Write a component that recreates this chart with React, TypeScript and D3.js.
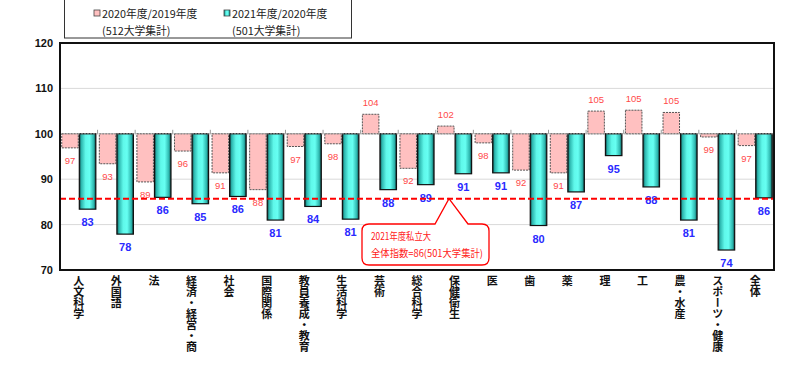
import React from 'react';
import * as d3 from 'd3';

const categories = [
  '人文科学', '外国語', '法', '経済・経営・商', '社会', '国際関係', '教員養成・教育',
  '生活科学', '芸術', '総合科学', '保健衛生', '医', '歯', '薬', '理', '工', '農・水産',
  'スポーツ・健康', '全体',
];
// 2020年度/2019年度 (512大学集計)
const prevIndex = [
  96.9, 93.4, 89.4, 96.2, 91.4, 87.7, 97.2, 97.8, 104.3, 92.4, 101.7, 98.0, 92.0, 91.4,
  105.0, 105.2, 104.7, 99.3, 97.4,
];
// 2021年度/2020年度 (501大学集計)
const currIndex = [
  83.4, 77.9, 86.0, 84.6, 86.2, 81.0, 84.0, 81.2, 87.7, 88.8, 91.2, 91.4, 79.8, 87.2,
  95.2, 88.3, 81.0, 74.4, 85.9,
];
const overallIndex = 85.7;
const yTicks = [70, 80, 90, 100, 110, 120];
const seriesNames = ['2020年度/2019年度', '2021年度/2020年度'];
const seriesNotes = ['(512大学集計)', '(501大学集計)'];

const JP = '"Noto Sans CJK JP", "Noto Sans", sans-serif';

const App: React.FC = () => {
  const margin = { top: 43, right: 26, bottom: 96, left: 60 };
  const W = 800;
  const H = 369;
  const x = d3
    .scaleBand<string>()
    .domain(categories)
    .range([margin.left, W - margin.right]);
  const xs = d3
    .scaleBand<string>()
    .domain(['prev', 'curr'])
    .range([0, x.bandwidth()])
    .paddingInner(0.06)
    .paddingOuter(0.1);
  const y = d3.scaleLinear().domain([70, 120]).range([H - margin.bottom - 3, margin.top]);
  const base = y(100);
  const left = margin.left;
  const right = W - margin.right;

  const ax = 449;
  const ay = y(overallIndex);
  const bx0 = 362, bx1 = 489, by0 = 224, by1 = 265, r = 7;
  const callout = `M${bx0 + r},${by0} L435,${by0} L${ax},${ay} L468,${by0} L${bx1 - r},${by0}
    Q${bx1},${by0} ${bx1},${by0 + r} L${bx1},${by1 - r} Q${bx1},${by1} ${bx1 - r},${by1}
    L${bx0 + r},${by1} Q${bx0},${by1} ${bx0},${by1 - r} L${bx0},${by0 + r} Q${bx0},${by0} ${bx0 + r},${by0} Z`;

  return (
    <svg width={W} height={H} style={{ position: 'absolute', left: 0, top: 0 }}>
      <defs>
        <linearGradient id="cyl" x1="0" x2="1" y1="0" y2="0">
          <stop offset="0" stopColor="#0a4040" />
          <stop offset="0.12" stopColor="#2cb5ad" />
          <stop offset="0.38" stopColor="#5ff8ea" />
          <stop offset="0.62" stopColor="#66fff2" />
          <stop offset="0.88" stopColor="#2cb5ad" />
          <stop offset="1" stopColor="#0a4040" />
        </linearGradient>
      </defs>
      <rect width={W} height={H} fill="#fff" />

      {/* legend */}
      <rect x={64.5} y={-1} width={287} height={39} fill="#fff" stroke="#333" />
      {[0, 1].map((i) => {
        const lx = i === 0 ? 94 : 224;
        return (
          <g key={i} fontFamily={JP} fontSize={10.8} fill="#222">
            <rect x={lx} y={10} width={6} height={6} fill={i === 0 ? '#ffc0c0' : 'url(#cyl)'} stroke="#444" strokeWidth={0.8} />
            <text x={lx + 8} y={17.5}>{seriesNames[i]}</text>
            <text x={lx + 8} y={35}>{seriesNotes[i]}</text>
          </g>
        );
      })}

      {/* grid */}
      {yTicks.filter((t) => t > 70 && t < 120).map((t) => (
        <line key={t} x1={left} x2={right} y1={y(t)} y2={y(t)} stroke="#d9d9d9" strokeWidth={1} />
      ))}

      {/* y ticks */}
      {yTicks.map((t) => (
        <text key={t} x={53} y={y(t) + 4} textAnchor="end" fontFamily="Liberation Sans, Arial" fontWeight="bold" fontSize={11} fill="#111">
          {t}
        </text>
      ))}

      {/* category ticks at baseline */}
      {categories.slice(1).map((c) => (
        <line key={c} x1={x(c)!} x2={x(c)!} y1={base} y2={base - 4} stroke="#999" strokeWidth={1} />
      ))}

      {/* bars */}
      {categories.map((c, i) => {
        const x0 = x(c)!;
        const pv = prevIndex[i];
        const cv = currIndex[i];
        const px = x0 + xs('prev')!;
        const cx = x0 + xs('curr')!;
        const bw = xs.bandwidth();
        return (
          <g key={c}>
            <rect
              x={px}
              y={Math.min(y(pv), base)}
              width={bw}
              height={Math.abs(y(pv) - base)}
              fill="#ffc0c0"
              stroke="#555"
              strokeWidth={1}
              strokeDasharray="2,1"
            />
            <rect
              x={cx}
              y={base}
              width={bw}
              height={y(cv) - base}
              fill="url(#cyl)"
              stroke="#111"
              strokeWidth={1.2}
            />
          </g>
        );
      })}

      {/* baseline */}
      <line x1={left} x2={right} y1={base} y2={base} stroke="#aaa" strokeWidth={0.8} strokeDasharray="2,1" />

      {/* value labels */}
      {categories.map((c, i) => {
        const x0 = x(c)!;
        const bw = xs.bandwidth();
        const pv = prevIndex[i];
        const cv = currIndex[i];
        const py = pv >= 100 ? y(pv) - 8 : y(pv) + 16;
        return (
          <g key={c}>
            <text x={x0 + xs('prev')! + bw / 2} y={py} textAnchor="middle" fontFamily="Liberation Sans, Arial" fontSize={9.5} fill="#ff4a4a">
              {Math.round(pv)}
            </text>
            <text x={x0 + xs('curr')! + bw / 2} y={y(cv) + 17} textAnchor="middle" fontFamily="Liberation Sans, Arial" fontWeight="bold" fontSize={11} fill="#2a2aff">
              {Math.round(cv)}
            </text>
          </g>
        );
      })}

      {/* overall average */}
      <line x1={left} x2={right} y1={ay} y2={ay} stroke="#ff0000" strokeWidth={2} strokeDasharray="6,3" />

      {/* plot border */}
      <rect x={left} y={margin.top} width={right - left} height={y(70) - margin.top} fill="none" stroke="#111" strokeWidth={2} />

      {/* callout */}
      <path d={callout} fill="#fff" stroke="#ff0000" strokeWidth={1.3} />
      <text x={bx0 + 9} y={by0 + 16} fontFamily={JP} fontSize={10} fill="#ff2020" textLength={60} lengthAdjust="spacingAndGlyphs">2021年度私立大</text>
      <text x={bx0 + 9} y={by0 + 33} fontFamily={JP} fontSize={10} fill="#ff2020" textLength={112} lengthAdjust="spacingAndGlyphs">全体指数=86(501大学集計)</text>

      {/* category labels, vertical */}
      {categories.map((c) => (
        <text
          key={c}
          x={x(c)! + x.bandwidth() / 2}
          y={y(70) + 5}
          fontFamily={JP}
          fontWeight="bold"
          fontSize={11}
          fill="#111"
          style={{ writingMode: 'vertical-rl', textOrientation: 'upright' } as React.CSSProperties}
        >
          {c}
        </text>
      ))}
    </svg>
  );
};

export default App;
